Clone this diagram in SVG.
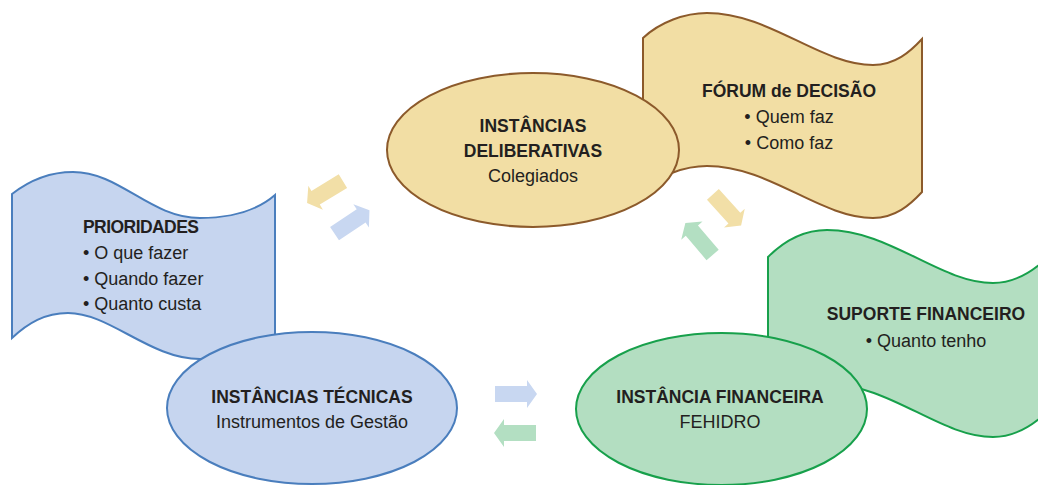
<svg xmlns="http://www.w3.org/2000/svg" width="1038" height="485" viewBox="0 0 1038 485">
<style>
text{font-family:"Liberation Sans",Arial,sans-serif;font-size:18px;fill:#231f20}
.b{font-weight:bold;font-size:17.5px}
.m{text-anchor:middle}
.blue{fill:#c6d5ef;stroke:#4a7ebd;stroke-width:2}
.yel{fill:#f2dea4;stroke:#8c5a2b;stroke-width:2}
.grn{fill:#b3dec1;stroke:#17a04b;stroke-width:2}
.ab{fill:#c8d7f1}
.ay{fill:#f2dfa7}
.ag{fill:#b3dfc2}
</style>
<defs>
<path id="arr" d="M-21,-8 L11,-8 L11,-14 L21,0 L11,14 L11,8 L-21,8 Z"/>
</defs>
<rect width="1038" height="485" fill="#ffffff"/>
<g id="prioridades">
<path class="blue" d="M12,194 C30,180 50,172 73,172 C120,172 150,218 200,218 C235,218 260,208 275,195 L275,336 C260,349 235,359 200,359 C150,359 110,313 68,313 C45,313 28,323 12,338 Z"/>
<text class="b" x="83" y="233" textLength="116">PRIORIDADES</text>
<text x="83" y="259">• O que fazer</text>
<text x="83" y="285">• Quando fazer</text>
<text x="83" y="310">• Quanto custa</text>
</g>
<g id="forum">
<path class="yel" d="M643,38 C660,22 685,13 707,13 C770,13 820,65 873,65 C895,65 910,52 922,39 L922,192 C910,205 895,218 873,218 C820,218 770,166 707,166 C685,166 660,175 643,191 Z"/>
<text class="b m" x="789" y="97">FÓRUM de DECISÃO</text>
<text class="m" x="789" y="123">• Quem faz</text>
<text class="m" x="789" y="149">• Como faz</text>
</g>
<g id="suporte">
<path class="grn" d="M768,257 C785,240 805,230 827,230 C890,230 940,283 993,283 C1015,283 1035,270 1050,255 L1050,409 C1035,424 1015,437 993,437 C940,437 890,384 827,384 C805,384 785,394 768,411 Z"/>
<text class="b m" x="926" y="320">SUPORTE FINANCEIRO</text>
<text class="m" x="926" y="347">• Quanto tenho</text>
</g>
<g id="deliberativas">
<ellipse class="yel" cx="533" cy="150" rx="146" ry="77"/>
<text class="b m" x="533" y="132">INSTÂNCIAS</text>
<text class="b m" x="533" y="157">DELIBERATIVAS</text>
<text class="m" x="533" y="182">Colegiados</text>
</g>
<g id="tecnicas">
<ellipse class="blue" cx="312" cy="408" rx="145" ry="76"/>
<text class="b m" x="312" y="403">INSTÂNCIAS TÉCNICAS</text>
<text class="m" x="312" y="428">Instrumentos de Gestão</text>
</g>
<g id="financeira">
<ellipse class="grn" cx="721.5" cy="409" rx="145.5" ry="76"/>
<text class="b m" x="720" y="403">INSTÂNCIA FINANCEIRA</text>
<text class="m" x="720" y="428">FEHIDRO</text>
</g>
<g id="connectors">
<use href="#arr" class="ay" transform="translate(325,192) rotate(148.6)"/>
<use href="#arr" class="ab" transform="translate(352,222) rotate(-33.7)"/>
<use href="#arr" class="ay" transform="translate(727,210) rotate(47.8)"/>
<use href="#arr" class="ag" transform="translate(699,239) rotate(-130.4)"/>
<use href="#arr" class="ab" transform="translate(516,394)"/>
<use href="#arr" class="ag" transform="translate(515,433) rotate(180)"/>
</g>
</svg>
